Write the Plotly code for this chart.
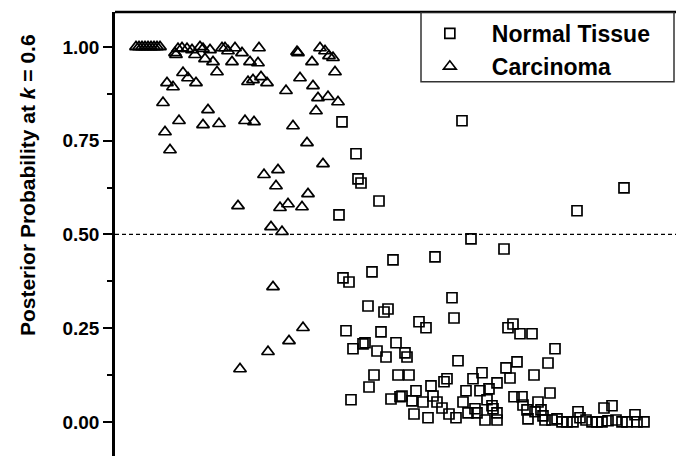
import plotly.graph_objects as go

# ---- data (x = sample position, y = posterior probability) ----
carc_x = [21, 24, 27, 30, 33, 36, 39, 42, 45,
          60, 61, 63, 67, 72, 77, 80, 85, 88, 95, 90, 98, 102, 107, 110, 113, 120, 117,
          127, 135, 143, 144, 68, 73, 81, 52, 58, 133, 138, 146, 152, 48, 93, 64, 88,
          104, 130, 139, 50, 55, 171, 182, 183, 185, 178, 192, 197, 205, 210, 214, 218,
          220, 198, 203, 213, 223, 201, 149, 163, 161, 123, 165, 173, 187, 193, 208,
          156, 167, 158, 188, 174, 153, 125]
carc_y = [1.000, 1.000, 1.000, 1.000, 1.000, 1.000, 1.000, 1.000, 1.000,
          0.984, 0.979, 0.995, 0.997, 0.995, 0.992, 0.979, 1.000, 0.995, 0.992, 0.968,
          0.960, 0.933, 0.997, 0.997, 0.989, 0.997, 0.960,
          0.984, 0.960, 0.957, 0.997, 0.931, 0.917, 0.904, 0.904, 0.893, 0.907, 0.912,
          0.920, 0.904, 0.851, 0.832, 0.803, 0.792,
          0.795, 0.803, 0.800, 0.773, 0.725, 0.883, 0.987, 0.984, 0.917, 0.789, 0.744,
          0.960, 0.997, 0.989, 0.976, 0.971,
          0.933, 0.896, 0.864, 0.867, 0.853, 0.829, 0.659, 0.672, 0.629, 0.576, 0.571,
          0.581, 0.573, 0.608, 0.688,
          0.520, 0.507, 0.360, 0.251, 0.216, 0.187, 0.141]

norm_x = [227, 347, 241, 243, 246, 264, 224, 356, 320, 278, 257, 228, 234, 337, 389,
          462, 509, 253, 269, 273, 339, 304, 311, 231, 266, 238, 248, 250, 262, 271,
          281, 290, 292, 343, 259, 283, 294, 254, 236, 276, 285, 287, 297, 301, 316,
          332, 329, 308, 318, 322, 327, 299, 313, 334, 341, 351, 348, 358, 367, 365,
          374, 382, 372, 377, 378, 360, 353, 362, 370, 382, 382,
          393, 398, 405, 417, 440, 433, 402, 391, 395, 419, 435, 399, 407, 423, 408,
          412, 420, 426, 413, 428, 430, 437, 442, 447, 452, 458, 463, 465, 471, 477,
          482, 487, 489, 497, 493, 501, 507, 512, 520, 522, 529]
norm_y = [0.800, 0.803, 0.715, 0.648, 0.637, 0.589, 0.552, 0.488, 0.440, 0.432, 0.400,
          0.384, 0.373, 0.331, 0.461,
          0.563, 0.624, 0.309, 0.293, 0.301, 0.277, 0.267, 0.251, 0.243, 0.240, 0.195,
          0.208, 0.211, 0.189, 0.173,
          0.211, 0.184, 0.173, 0.163, 0.125, 0.125, 0.125, 0.093, 0.059, 0.061, 0.067,
          0.069, 0.056, 0.083, 0.096,
          0.115, 0.107, 0.053, 0.069, 0.053, 0.037, 0.021, 0.011, 0.021, 0.011, 0.083,
          0.053, 0.115, 0.131, 0.083,
          0.088, 0.104, 0.059, 0.043, 0.035, 0.035, 0.024, 0.024, 0.005, 0.005, 0.024,
          0.251, 0.261, 0.235, 0.235, 0.195, 0.157, 0.160, 0.144, 0.117, 0.125, 0.077,
          0.067, 0.067, 0.053, 0.045,
          0.032, 0.027, 0.032, 0.008, 0.016, 0.005, 0.005, 0.008, 0.000, 0.000, 0.000,
          0.027, 0.011, 0.005, 0.000,
          0.000, 0.000, 0.037, 0.043, 0.003, 0.005, 0.000, 0.000, 0.019, 0.000, 0.000]

series_names = ["Normal Tissue", "Carcinoma"]
threshold = 0.5
y_title = "Posterior Probability at <i>k</i> = 0.6"

FONT = "Liberation Sans, Arial, Helvetica, sans-serif"

fig = go.Figure()
fig.add_trace(go.Scatter(
    x=norm_x, y=norm_y, mode="markers", name=series_names[0],
    marker=dict(symbol="square-open", size=10, color="black", line=dict(width=1.7, color="black")),
))
fig.add_trace(go.Scatter(
    x=carc_x, y=carc_y, mode="markers", name=series_names[1],
    marker=dict(symbol="triangle-up-open", size=11, color="black", line=dict(width=1.7, color="black")),
))

# threshold line
fig.add_shape(type="line", xref="paper", yref="y", x0=0, x1=1, y0=threshold, y1=threshold,
              line=dict(color="black", width=1.3, dash="4px,3px"))
# top frame line
fig.add_shape(type="line", xref="paper", yref="paper", x0=0, x1=1, y0=1, y1=1,
              line=dict(color="black", width=2.5))
# legend box
fig.add_shape(type="rect", xref="x", yref="y", x0=306, x1=559, y0=0.907, y1=1.093,
              line=dict(color="#333333", width=1.5), fillcolor="rgba(0,0,0,0)")

# y-axis title as annotation (positioned like the original, above the axis centre)
fig.add_annotation(
    text=y_title, xref="paper", yref="paper", x=-0.157, y=0.61,
    xanchor="center", yanchor="middle", textangle=-90, showarrow=False,
    font=dict(family=FONT, size=21, weight="bold", color="black"),
)

fig.update_layout(
    width=676, height=456,
    margin=dict(l=115, r=0, t=12, b=0),
    paper_bgcolor="white", plot_bgcolor="white",
    font=dict(family=FONT, color="black"),
    showlegend=True,
    legend=dict(
        x=0.522, y=1.0, xanchor="left", yanchor="top",
        bgcolor="rgba(0,0,0,0)", borderwidth=0,
        font=dict(family=FONT, size=23, weight="bold", color="black"),
        itemwidth=74,
    ),
    xaxis=dict(range=[0, 561], visible=False, showgrid=False, zeroline=False),
    yaxis=dict(
        range=[-0.091, 1.093],
        tickmode="linear", tick0=0, dtick=0.25, tickformat=".2f",
        showgrid=False, zeroline=False,
        showline=True, linewidth=2.5, linecolor="black",
        ticks="outside", ticklen=9, tickwidth=2, tickcolor="black",
        tickfont=dict(family=FONT, size=19, weight="bold", color="black"),
        minor=dict(ticks="outside", dtick=0.125, ticklen=5, tickwidth=1.5, tickcolor="black"),
    ),
)

fig.write_html("out.html")
